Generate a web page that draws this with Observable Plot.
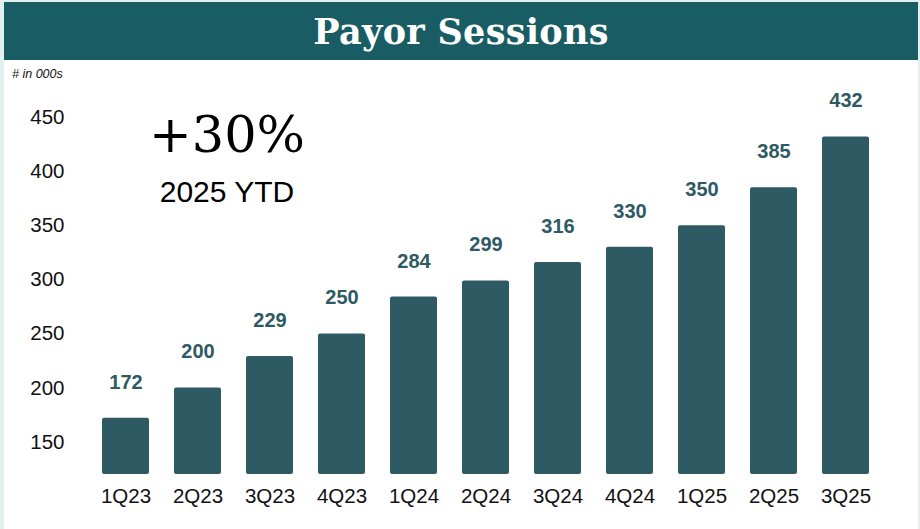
<!DOCTYPE html>
<html>
<head>
<meta charset="utf-8">
<script src="https://cdn.jsdelivr.net/npm/d3@7"></script>
<script src="https://cdn.jsdelivr.net/npm/@observablehq/plot@0.6"></script>
<style>
  html, body { margin: 0; padding: 0; }
  body { width: 920px; height: 529px; background: #e2f0f0; overflow: hidden; position: relative; font-family: "Liberation Sans", Arial, sans-serif; }
  #card { position: absolute; left: 4px; top: 2px; width: 914px; height: 527px; background: #ffffff; }
  #banner { height: 58px; background: #1a5c63; color: #fff; display: flex; align-items: center; justify-content: center;
            font-family: "DejaVu Serif", serif; font-weight: bold; font-size: 35px; letter-spacing: 0.3px; }
  #unit { position: absolute; left: 8px; top: 65px; font-size: 12.5px; font-style: italic; color: #111; }
  #big { position: absolute; left: 0; width: 446px; top: 107px; text-align: center; font-family: "DejaVu Serif", serif; font-size: 51px; color: #000; line-height: 1; }
  #ytd { position: absolute; left: 0; width: 446px; top: 175px; text-align: center; font-size: 30px; color: #000; line-height: 1; }
  #chart { position: absolute; left: 0; top: 58px; }
</style>
</head>
<body>
<div id="card">
  <div id="banner">Payor Sessions</div>
  <div id="chart"></div>
  <div id="unit"># in 000s</div>
  <div id="big">+30%</div>
  <div id="ytd">2025 YTD</div>
</div>
<script>
const quarters = ["1Q23","2Q23","3Q23","4Q23","1Q24","2Q24","3Q24","4Q24","1Q25","2Q25","3Q25"];
const sessions = [172, 200, 229, 250, 284, 299, 316, 330, 350, 385, 432];
const yTicks = [150, 200, 250, 300, 350, 400, 450];

const data = quarters.map((q, i) => ({quarter: q, value: sessions[i]}));
const barColor = "#2e5a63";

const chart = Plot.plot({
  width: 914,
  height: 471,
  marginLeft: 69,
  marginRight: 21,
  marginTop: 24.6,
  marginBottom: 57,
  style: {fontFamily: "'Liberation Sans', Arial, sans-serif", background: "transparent", overflow: "visible"},
  x: {domain: quarters, padding: 0.35, label: null, tickSize: 0, tickPadding: 15},
  y: {domain: [120, 480], ticks: yTicks, label: null, tickSize: 0, tickPadding: 12},
  marks: [
    Plot.barY(data, {x: "quarter", y1: 120, y2: "value", fill: barColor, rx: 2}),
    Plot.text(data, {x: "quarter", y: "value", text: d => String(d.value), dy: -36, fill: barColor, fontWeight: "bold", fontSize: 20}),
    Plot.axisX({tickSize: 0, tickPadding: 14, fontSize: 20.5, fill: "#111", label: null}),
    Plot.axisY({ticks: yTicks, tickSize: 0, tickPadding: 9, fontSize: 20.5, fill: "#111", label: null})
  ]
});
document.getElementById("chart").appendChild(chart);
</script>
</body>
</html>
